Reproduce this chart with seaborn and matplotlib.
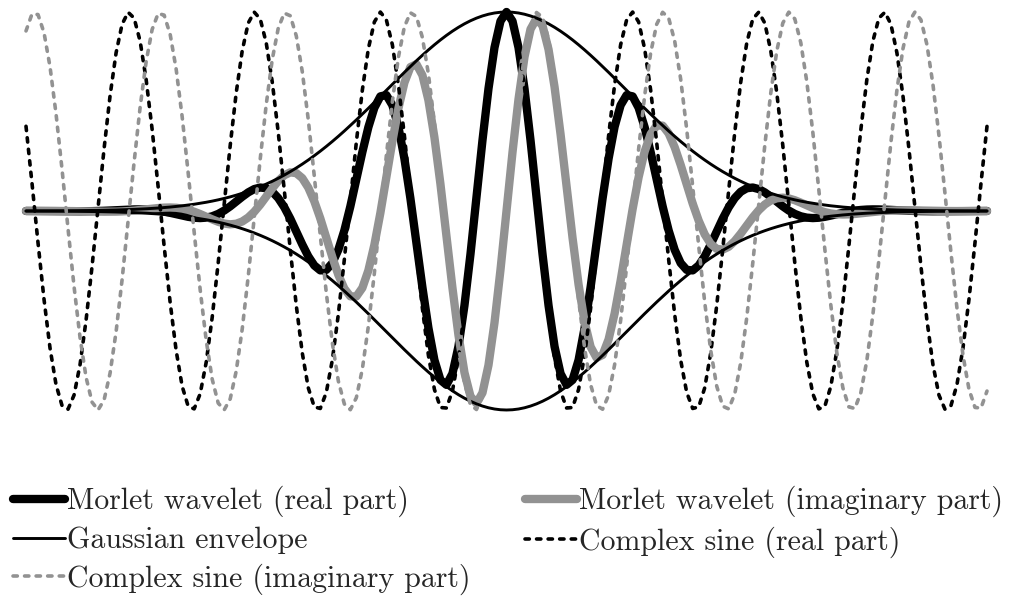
import numpy as np
import matplotlib
matplotlib.use("Agg")
import matplotlib.pyplot as plt
import seaborn as sns

# Morlet wavelet parameters
time_range = [-1.0, 1.0]      # seconds
n_samples = 161
frequency = 3.82              # Hz
n_cycles = 6                  # width of the Gaussian in cycles

labels = [
    "Morlet wavelet (real part)",
    "Morlet wavelet (imaginary part)",
    "Gaussian envelope",
    "Complex sine (real part)",
    "Complex sine (imaginary part)",
]

t = np.linspace(time_range[0], time_range[1], n_samples)
sigma = n_cycles / (2 * np.pi * frequency)
csine = np.exp(2j * np.pi * frequency * t)
gauss = np.exp(-t ** 2 / (2 * sigma ** 2))
wavelet = csine * gauss

sns.set_style("white")
plt.rcParams["font.family"] = ["cmr10", "DejaVu Serif"]
plt.rcParams["axes.formatter.use_mathtext"] = True

fig = plt.figure(figsize=(10.14, 5.96), dpi=100)
ax = fig.add_axes([26 / 1014, 1 - 410 / 596, (987 - 26) / 1014, (410 - 12) / 596])

grey = "#929292"
dash = (0, (1.2, 2.0))
common = dict(sort=False, estimator=None, clip_on=False)

sns.lineplot(x=t, y=wavelet.real, color="black", linewidth=6,
             solid_capstyle="round", solid_joinstyle="round",
             label=labels[0], ax=ax, **common)
sns.lineplot(x=t, y=wavelet.imag, color=grey, linewidth=6,
             solid_capstyle="round", solid_joinstyle="round",
             label=labels[1], ax=ax, **common)
sns.lineplot(x=t, y=gauss, color="black", linewidth=2.1,
             label=labels[2], ax=ax, **common)
sns.lineplot(x=t, y=-gauss, color="black", linewidth=2.1,
             ax=ax, **common)
sns.lineplot(x=t, y=csine.real, color="black", linewidth=2.6,
             linestyle=dash, dash_capstyle="round",
             label=labels[3], ax=ax, **common)
sns.lineplot(x=t, y=csine.imag, color=grey, linewidth=2.6,
             linestyle=dash, dash_capstyle="round",
             label=labels[4], ax=ax, **common)

ax.set_xlim(time_range)
ax.set_ylim(-1, 1)
ax.set_axis_off()

handles, hl = ax.get_legend_handles_labels()
lookup = dict(zip(hl, handles))
order = [labels[0], labels[2], labels[4], labels[1], labels[3]]
ax.get_legend().remove()
fig.legend([lookup[k] for k in order], order, ncol=2,
           loc="upper left", bbox_to_anchor=(4 / 1014, 1 - 477 / 596),
           frameon=False, fontsize=21.5, handlelength=1.75,
           handletextpad=0.07, columnspacing=1.8, labelspacing=0.31,
           borderaxespad=0, borderpad=0.3)

fig.savefig("out.png", dpi=100)
